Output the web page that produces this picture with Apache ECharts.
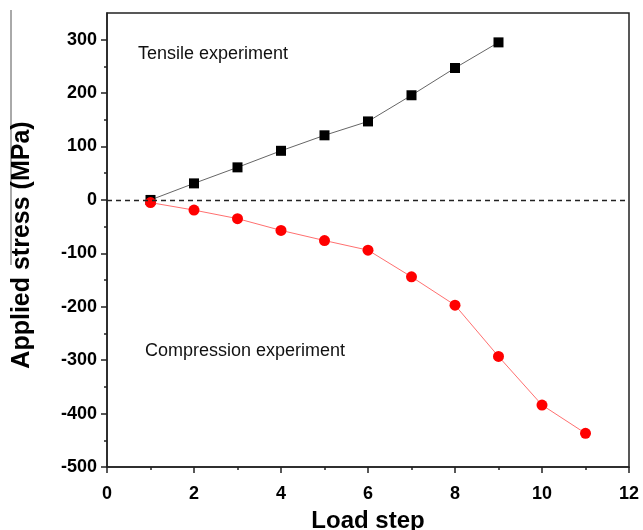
<!DOCTYPE html>
<html>
<head>
<meta charset="utf-8">
<style>
  html, body { margin: 0; padding: 0; background: #fff; }
  #chart { width: 643px; height: 530px; }
</style>
<script src="https://cdn.jsdelivr.net/npm/echarts@6/dist/echarts.min.js"></script>
</head>
<body>
<div id="chart"></div>
<script>
// Load steps and applied stress (MPa)
const tensileSteps = [1, 2, 3, 4, 5, 6, 7, 8, 9];
const tensileStress = [0, 31, 61, 92, 121, 147, 196, 247, 295];
const compressionSteps = [1, 2, 3, 4, 5, 6, 7, 8, 9, 10, 11];
const compressionStress = [-5, -19, -35, -57, -76, -94, -144, -197, -293, -384, -437];

const yMajorTicks = [-500, -400, -300, -200, -100, 0, 100, 200, 300];
const yMinorTicks = [-450, -350, -250, -150, -50, 50, 150, 250];

const pairs = (xs, ys) => xs.map((x, i) => [x, ys[i]]);

const font = 'Liberation Sans, Arial, sans-serif';
const axisColor = '#222';

const chart = echarts.init(document.getElementById('chart'), null, { renderer: 'canvas' });

chart.setOption({
  animation: false,
  backgroundColor: '#fff',
  grid: {
    left: 107, right: 14, top: 13, bottom: 63,
    outerBoundsMode: 'none',
    show: true, borderColor: axisColor, borderWidth: 1.5
  },
  xAxis: {
    type: 'value', min: 0, max: 12, interval: 2,
    name: 'Load step', nameLocation: 'middle', nameGap: 42,
    nameTextStyle: { fontFamily: font, fontWeight: 'bold', fontSize: 24, color: '#000' },
    axisLine: { show: true, onZero: false, lineStyle: { color: axisColor, width: 1.5 } },
    axisTick: { show: true, inside: false, length: 6, lineStyle: { color: axisColor, width: 1.5 } },
    minorTick: { show: true, splitNumber: 2, length: 3, lineStyle: { color: axisColor, width: 1.5 } },
    splitLine: { show: false },
    axisLabel: { fontFamily: font, fontWeight: 'bold', fontSize: 18, color: '#000', margin: 18 }
  },
  yAxis: [
    {
      type: 'value', min: -500, max: 350, interval: 100,
      name: 'Applied stress (MPa)', nameLocation: 'middle', nameGap: 72,
      nameTextStyle: { fontFamily: font, fontWeight: 'bold', fontSize: 25, color: '#000',
                       padding: [0, 10, 0, 0] },
      axisLine: { show: true, onZero: false, lineStyle: { color: axisColor, width: 1.5 } },
      axisTick: { show: true, inside: false, length: 6, customValues: yMajorTicks,
                  lineStyle: { color: axisColor, width: 1.5 } },
      splitLine: { show: false },
      axisLabel: { fontFamily: font, fontWeight: 'bold', fontSize: 18, color: '#000', margin: 10,
                   customValues: yMajorTicks }
    },
    {
      type: 'value', min: -500, max: 350, interval: 50, position: 'left',
      axisLine: { show: false },
      axisTick: { show: true, inside: false, length: 3, customValues: yMinorTicks,
                  lineStyle: { color: axisColor, width: 1.5 } },
      axisLabel: { show: false },
      splitLine: { show: false }
    }
  ],
  graphic: [
    { type: 'text', left: 138, top: 45,
      style: { text: 'Tensile experiment', font: '18px ' + font, fill: '#111' } },
    { type: 'text', left: 145, top: 342,
      style: { text: 'Compression experiment', font: '18px ' + font, fill: '#111' } },
    { type: 'line', shape: { x1: 11, y1: 10, x2: 11, y2: 265 },
      style: { stroke: '#555', lineWidth: 1 } }
  ],
  series: [
    {
      name: 'Tensile', type: 'line', data: pairs(tensileSteps, tensileStress),
      symbol: 'rect', symbolSize: 10,
      itemStyle: { color: '#000' },
      lineStyle: { color: '#666', width: 1 },
      z: 3,
      markLine: {
        silent: true, symbol: 'none', label: { show: false },
        lineStyle: { type: [5, 4], color: '#222', width: 1.3 },
        data: [{ yAxis: 0 }]
      }
    },
    {
      name: 'Compression', type: 'line', data: pairs(compressionSteps, compressionStress),
      symbol: 'circle', symbolSize: 11,
      itemStyle: { color: '#ff0000' },
      lineStyle: { color: '#ff7070', width: 1 },
      z: 4
    }
  ]
});
</script>
</body>
</html>
